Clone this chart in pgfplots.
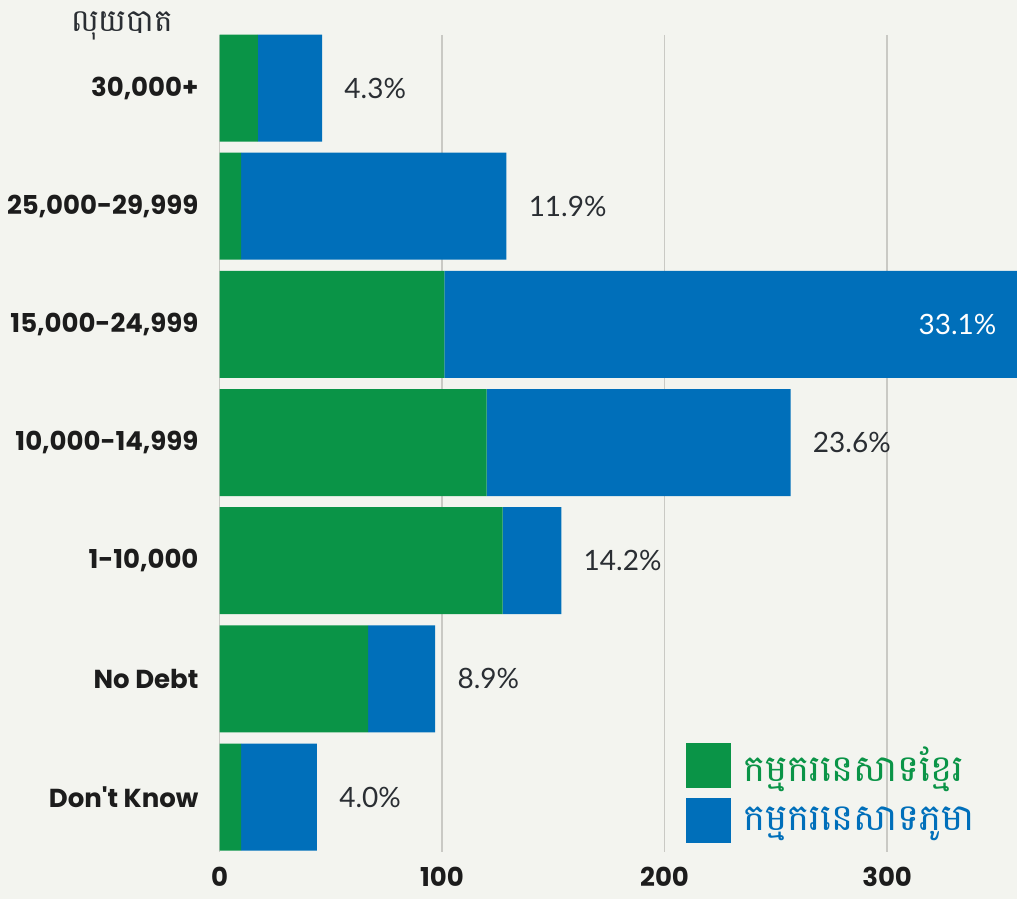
\documentclass[border=0pt]{standalone}
\usepackage{fontspec}
\setmainfont{Poppins}[Ligatures=TeXOff]
\newfontfamily\khmer[Script=Khmer]{Battambang}
\newfontfamily\valfont{Lato}
\usepackage{pgfplots}
\usepackage{pgfplotstable}
\pgfplotsset{compat=1.18}
\definecolor{bgc}{HTML}{F3F4EF}
\definecolor{kgreen}{HTML}{0A9447}
\definecolor{kblue}{HTML}{006FBA}
\definecolor{gridc}{HTML}{C9C9C4}
\definecolor{dtext}{HTML}{1C1C1C}
\definecolor{vtext}{HTML}{2A2E33}
\pgfplotstableread{
y green blue
0 17.3 28.8
1 9.7 119.2
2 101.0 258.0
3 120.0 136.6
4 127.2 26.4
5 66.8 30.1
6 9.7 34.1
}\debttable
\tikzset{vlab/.style={font=\valfont\fontsize{14}{16}\selectfont, text=vtext, inner sep=0pt, anchor=west, xshift=11pt}}
\begin{document}
\begin{tikzpicture}
\fill[bgc] (0pt,0pt) rectangle (508.5pt,-449.5pt);
\node[font=\khmer\fontsize{15.5}{18}\selectfont, text=vtext] at (61pt,-13pt) {លុយបាត};
\begin{axis}[
  at={(109.75pt,-426pt)}, anchor=south west,
  scale only axis, width=399pt, height=408.5pt,
  xbar stacked, bar width=53.5pt,
  xmin=0, xmax=358.6, ymin=-0.4485, ymax=6.465, y dir=reverse,
  ytick={0,1,2,3,4,5,6},
  yticklabels={{30,000+},{25,000-29,999},{15,000-24,999},{10,000-14,999},{1-10,000},{No Debt},{Don't Know}},
  xtick={0,100,200,300},
  axis line style={draw=none},
  major tick length=0pt,
  xmajorgrids, grid style={gridc, line width=0.9pt},
  /pgf/number format/assume math mode=true,
  tick label style={font=\bfseries\fontsize{13}{15}\selectfont, text=dtext},
  yticklabel style={xshift=-7pt},
  xticklabel style={yshift=-4pt},
  legend style={at={(axis description cs:0.5846,0.1346)}, anchor=north west, draw=none, fill=none, inner sep=0pt, row sep=5pt, font=\khmer\fontsize{18.5}{20}\selectfont},
  legend cell align=left,
  /tikz/every odd column/.append style={column sep=4pt},
  legend image code/.code={\fill[#1] (0pt,-11.25pt) rectangle (22.5pt,11.25pt);},
]
\addplot[fill=kgreen, draw=none] table[x=green, y=y] {\debttable};
\addlegendentry{\textcolor{kgreen}{កម្មករនេសាទខ្មែរ}}
\addplot[fill=kblue, draw=none] table[x=blue, y=y] {\debttable};
\addlegendentry{\textcolor{kblue}{កម្មករនេសាទភូមា}}
\node[vlab] at (axis cs:46.1,0) {4.3\%};
\node[vlab] at (axis cs:128.9,1) {11.9\%};
\node[vlab] at (axis cs:256.6,3) {23.6\%};
\node[vlab] at (axis cs:153.6,4) {14.2\%};
\node[vlab] at (axis cs:96.9,5) {8.9\%};
\node[vlab] at (axis cs:43.8,6) {4.0\%};
\coordinate (biglab) at (axis cs:349.3,2);
\end{axis}
\node[font=\valfont\fontsize{14}{16}\selectfont, text=white, inner sep=0pt, anchor=east] at (biglab) {33.1\%};
\pgfresetboundingbox
\path (0pt,0pt) rectangle (508.5pt,-449.5pt);
\end{tikzpicture}
\end{document}
